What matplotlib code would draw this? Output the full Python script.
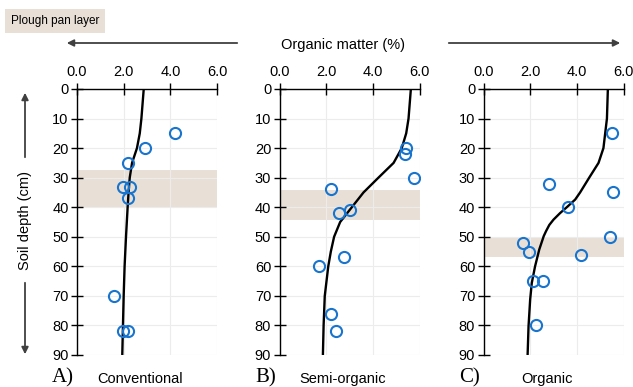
import matplotlib
matplotlib.use('Agg')
import matplotlib.pyplot as plt
from matplotlib.patches import FancyArrowPatch

# observed points (organic matter %, depth cm)
conv_om = [4.21, 2.93, 2.17, 1.97, 2.26, 2.17, 1.60, 1.97, 2.19]
conv_depth = [15, 20, 25, 33, 33, 37, 70, 82, 82]
semi_om = [5.43, 5.39, 5.76, 2.19, 2.57, 3.04, 2.76, 1.69, 2.19, 2.44]
semi_depth = [20, 22, 30, 34, 42, 41, 57, 60, 76, 82]
org_om = [5.51, 2.80, 5.56, 3.64, 5.43, 1.69, 1.93, 4.16, 2.11, 2.53, 2.27]
org_depth = [15, 32, 35, 40, 50, 52, 55, 56, 65, 65, 80]

# fitted curves
conv_fit_depth = [0, 10, 15, 20, 25, 30, 35, 40, 50, 60, 70, 80, 90]
conv_fit_om = [2.86, 2.76, 2.69, 2.57, 2.36, 2.26, 2.21, 2.17, 2.10, 2.04, 2.00, 1.97, 1.94]
semi_fit_depth = [0, 10, 15, 20, 25, 30, 35, 40, 45, 50, 55, 60, 70, 80, 90]
semi_fit_om = [5.63, 5.53, 5.43, 5.24, 4.89, 4.24, 3.60, 3.10, 2.60, 2.34, 2.20, 2.09, 1.94, 1.89, 1.86]
org_fit_depth = [0, 10, 20, 25, 30, 35, 37.4, 40, 42, 44.2, 46, 48.1, 49.8, 54.3, 60, 65.6, 71.2, 80.3, 90]
org_fit_om = [5.33, 5.29, 5.14, 4.93, 4.53, 4.14, 3.93, 3.57, 3.28, 3.00, 2.82, 2.68, 2.58, 2.39, 2.21, 2.07, 2.00, 1.93, 1.89]

# plough pan layer (top, bottom) depth
pans = [(27.3, 40.0), (34.1, 44.4), (50.0, 56.7)]
letters = ['A)', 'B)', 'C)']
names = ['Conventional', 'Semi-organic', 'Organic']

x_ticks = [0, 2, 4, 6]
x_labels = ['0.0', '2.0', '4.0', '6.0']
y_ticks = [0, 10, 20, 30, 40, 50, 60, 70, 80, 90]

plt.rcParams['font.family'] = ['Liberation Sans', 'DejaVu Sans']
pan_color = '#e8e0d6'
dot_color = '#1874cd'

fig = plt.figure(figsize=(6.33, 3.87), dpi=100)
W, H = 633.0, 387.0

panels = [
    (conv_om, conv_depth, conv_fit_om, conv_fit_depth),
    (semi_om, semi_depth, semi_fit_om, semi_fit_depth),
    (org_om, org_depth, org_fit_om, org_fit_depth),
]
lefts = [77, 279.5, 483.5]


def fig_arrow(x0, y0, x1, y1):
    a = FancyArrowPatch((x0 / W, 1 - y0 / H), (x1 / W, 1 - y1 / H),
                        transform=fig.transFigure, arrowstyle='-|>',
                        mutation_scale=10, color='#404040', lw=1.3)
    fig.add_artist(a)


for i, (om, dep, fom, fdep) in enumerate(panels):
    ax = fig.add_axes([lefts[i] / W, 1 - 355 / H, 140 / W, 266 / H])
    ax.set_xlim(0, 6)
    ax.set_ylim(90, 0)
    ax.axhspan(pans[i][0], pans[i][1], color=pan_color, lw=0, zorder=0)
    ax.plot(fom, fdep, color='black', lw=1.7, zorder=3,
            solid_joinstyle='round', solid_capstyle='butt')
    ax.plot(om, dep, 'o', mfc='none', mec=dot_color, mew=1.5, ms=8, zorder=4)
    ax.set_xticks(x_ticks)
    ax.set_xticklabels(x_labels)
    ax.set_yticks(y_ticks)
    ax.xaxis.tick_top()
    ax.tick_params(axis='x', direction='inout', length=8, width=1, labelsize=10.5, pad=3)
    ax.tick_params(axis='y', direction='inout', length=8, width=1, labelsize=10.5, pad=2)
    ax.grid(True, color='#ececec', lw=0.8, zorder=0)
    ax.set_axisbelow(True)
    for s in ['right', 'bottom']:
        ax.spines[s].set_visible(False)
    for s in ['left', 'top']:
        ax.spines[s].set_linewidth(1.0)
        ax.spines[s].set_color('black')

    fig.text((lefts[i] - 14) / W, 1 - 378 / H, letters[i], family='Liberation Serif',
             fontsize=15, ha='center', va='center')
    fig.text((lefts[i] + 63) / W, 1 - 379 / H, names[i], fontsize=10.5,
             ha='center', va='center')

# top title with arrows
fig.text(343 / W, 1 - 45 / H, 'Organic matter (%)', fontsize=10.5, ha='center', va='center')
fig_arrow(240, 43, 64, 43)
fig_arrow(446, 43, 623, 43)

# depth label with arrows
fig.text(25 / W, 1 - 221 / H, 'Soil depth (cm)', fontsize=10.5, rotation=90,
         ha='center', va='center')
fig_arrow(25, 160, 25, 90)
fig_arrow(25, 280, 25, 357)

# legend box
fig.text(11 / W, 1 - 21 / H, 'Plough pan layer', fontsize=8.5, ha='left', va='center',
         bbox=dict(boxstyle='square,pad=0.5', fc=pan_color, ec='none'))

fig.savefig('out.png', dpi=100)
